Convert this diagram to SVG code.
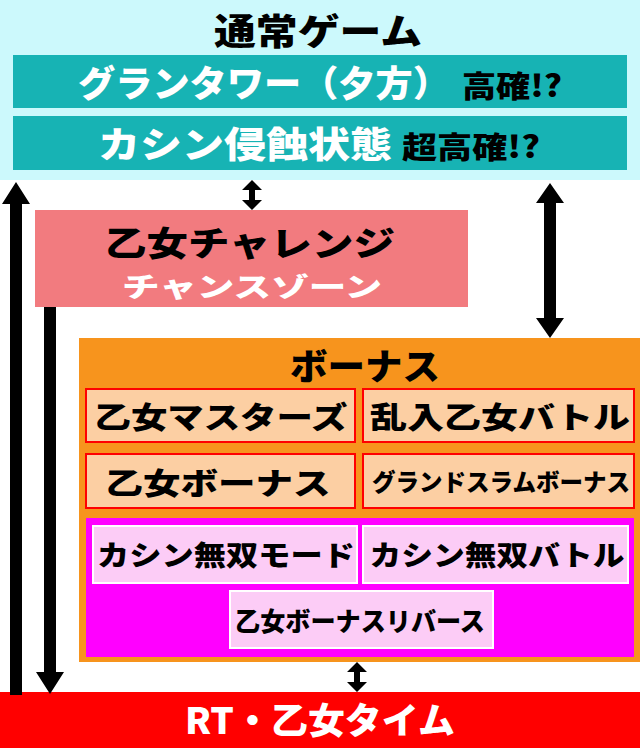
<svg xmlns="http://www.w3.org/2000/svg" width="640" height="748" viewBox="0 0 640 748">
<style>
text{font-family:"Noto Sans CJK JP","Noto Sans",sans-serif;font-weight:900;text-anchor:middle}
.w{fill:#fff}.k{fill:#000}
.sub{fill:#FCCFA3;stroke:#F00;stroke-width:2}
.pk{fill:#FCCCF6;stroke:#fff;stroke-width:2}
</style>
<g id="normal">
<rect x="0" y="0" width="640" height="180" fill="#CCF9FC"/>
<text x="318" y="45" font-size="36" class="k" textLength="208" lengthAdjust="spacingAndGlyphs">通常ゲーム</text>
<rect x="13" y="55" width="614" height="53" fill="#17B3B4"/>
<text x="264" y="97" font-size="36" class="w" textLength="372" lengthAdjust="spacingAndGlyphs">グランタワー（夕方）</text>
<text x="512" y="97" font-size="30" class="k" textLength="100" lengthAdjust="spacingAndGlyphs">高確!?</text>
<rect x="13" y="116" width="614" height="54" fill="#17B3B4"/>
<text x="245" y="158" font-size="36" class="w" textLength="294" lengthAdjust="spacingAndGlyphs">カシン侵蝕状態</text>
<text x="471" y="158" font-size="30" class="k" textLength="138" lengthAdjust="spacingAndGlyphs">超高確!?</text>
</g>
<g id="challenge">
<rect x="35" y="210" width="433" height="97" fill="#F27B7F"/>
<text x="250" y="256" font-size="34" class="k" textLength="290" lengthAdjust="spacingAndGlyphs">乙女チャレンジ</text>
<text x="252" y="297" font-size="27" class="w" textLength="260" lengthAdjust="spacingAndGlyphs">チャンスゾーン</text>
</g>
<g id="bonus">
<rect x="79" y="338" width="561" height="324" fill="#F7941D"/>
<text x="365" y="380" font-size="36" class="k" textLength="150" lengthAdjust="spacingAndGlyphs">ボーナス</text>
<rect class="sub" x="86" y="389" width="269" height="53"/>
<text x="221" y="428" font-size="30" class="k" textLength="253" lengthAdjust="spacingAndGlyphs">乙女マスターズ</text>
<rect class="sub" x="363" y="389" width="271" height="53"/>
<text x="500" y="428" font-size="30" class="k" textLength="260" lengthAdjust="spacingAndGlyphs">乱入乙女バトル</text>
<rect class="sub" x="86" y="454" width="269" height="54"/>
<text x="218" y="494" font-size="30" class="k" textLength="225" lengthAdjust="spacingAndGlyphs">乙女ボーナス</text>
<rect class="sub" x="363" y="454" width="271" height="54"/>
<text x="501" y="491" font-size="24" class="k" textLength="258" lengthAdjust="spacingAndGlyphs">グランドスラムボーナス</text>
<rect x="86" y="518" width="548" height="139" fill="#FF00FF"/>
<rect class="pk" x="93" y="526" width="264" height="57"/>
<text x="226" y="566" font-size="28" class="k" textLength="258" lengthAdjust="spacingAndGlyphs">カシン無双モード</text>
<rect class="pk" x="363" y="526" width="265" height="57"/>
<text x="497" y="566" font-size="28" class="k" textLength="255" lengthAdjust="spacingAndGlyphs">カシン無双バトル</text>
<rect class="pk" x="230" y="591" width="263" height="57"/>
<text x="360" y="631" font-size="26" class="k" textLength="250" lengthAdjust="spacingAndGlyphs">乙女ボーナスリバース</text>
</g>
<g id="rt">
<rect x="0" y="692" width="640" height="56" fill="#FF0000"/>
<text x="320" y="734" font-size="36" class="w" textLength="270" lengthAdjust="spacingAndGlyphs">RT・乙女タイム</text>
</g>
<g id="connectors" fill="#000">
<path d="M10,695V204H2L16,182L30,204H22V695Z"/>
<path d="M44,307V672H36L50,694L64,672H56V307Z"/>
<path d="M544,203V318H536L550,338L564,318H556V203H564L550,183L536,203Z"/>
<path d="M249,190V200H242L252,210L262,200H255V190H262L252,180L242,190Z"/>
<path d="M354,672V682H347L357,692L367,682H360V672H367L357,662L347,672Z"/>
</g>
</svg>
